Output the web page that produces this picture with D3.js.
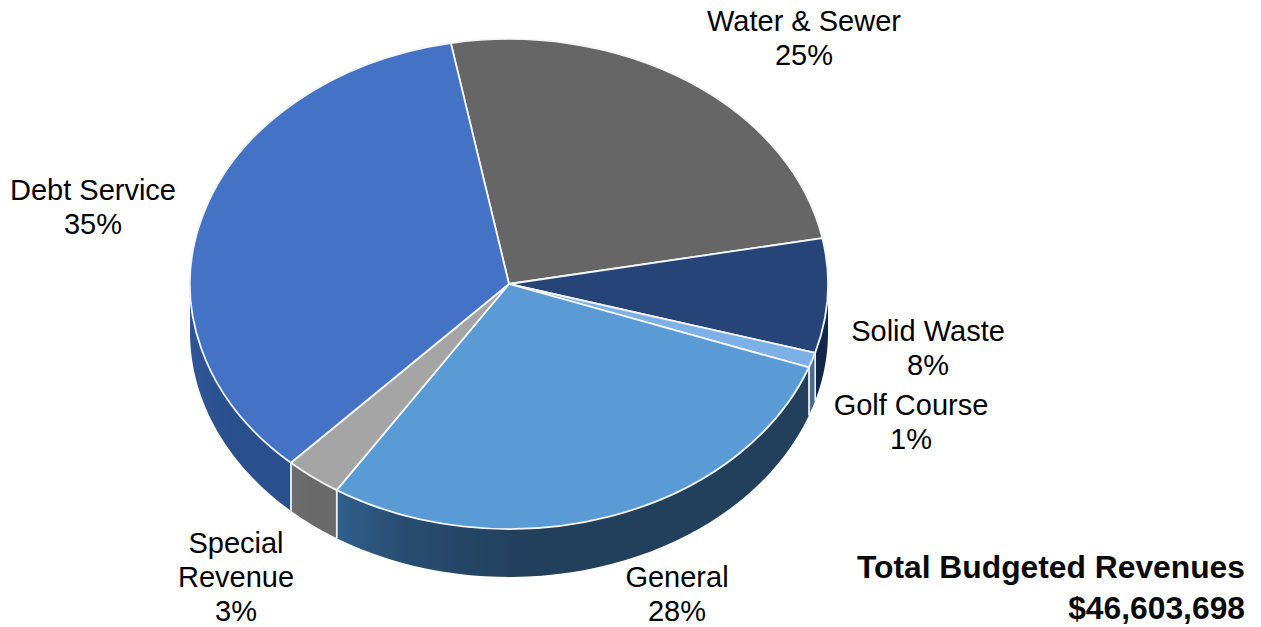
<!DOCTYPE html>
<html><head><meta charset="utf-8">
<script src="https://cdn.jsdelivr.net/npm/d3@7/dist/d3.min.js"></script>
<style>html,body{margin:0;padding:0;background:#fff}svg{display:block}</style>
</head><body><svg id="c" width="1261" height="627"></svg>
<script>
const categories = ["Water & Sewer","Solid Waste","Golf Course","General","Special Revenue","Debt Service"];
const shownPercents = ["25%","8%","1%","28%","3%","35%"];
const values = [24.92,7.53,1.0,28.55,2.9,35.1];
const topColors = ["#666666","#264478","#7cb0e6","#5b9bd5","#a5a5a5","#4472c4"];
const sideLeft  = ["#444444","#14294f","#5d7f9f","#2f5f8c","#6e6e6e","#2f5597"];
const sideMid   = ["#444444","#13274c","#54758f","#284c70","#6c6c6c","#2d5393"];
const sideRight = ["#444444","#12264a","#4b6c8c","#223f5c","#6a6a6a","#2a4f8d"];
const labelLines = [["Water & Sewer"],["Solid Waste"],["Golf Course"],["General"],["Special","Revenue"],["Debt Service"]];
const labelX = [804,928,911,677,236,93];
const labelY = [31,341,415,587,553,200];
const totalLines = ["Total Budgeted Revenues","$46,603,698"];

const cx=509, cy=284, rx=319, ry=245, depth=48, startDeg=-10.5;
const svg=d3.select("#c");
const defs=svg.append("defs");
const pie=d3.pie().sort(null).value(d=>d).startAngle(startDeg*Math.PI/180).endAngle((startDeg+360)*Math.PI/180);
const arcs=pie(values);
const px=t=>cx+rx*Math.sin(t), py=t=>cy-ry*Math.cos(t);

// side walls (front half only)
const frontA=Math.PI/2, frontB=3*Math.PI/2;
const line=d3.line();
arcs.forEach((a,i)=>{
  const s=Math.max(a.startAngle,frontA), e=Math.min(a.endAngle,frontB);
  if(e<=s) return;
  const ts=d3.range(0,41).map(k=>s+(e-s)*k/40);
  const pts=ts.map(t=>[px(t),py(t)]).concat(ts.slice().reverse().map(t=>[px(t),py(t)+depth]));
  const id="side"+i;
  const g=defs.append("linearGradient").attr("id",id).attr("gradientUnits","userSpaceOnUse")
    .attr("x1",px(e)).attr("y1",0).attr("x2",px(s)).attr("y2",0);
  g.append("stop").attr("offset",0).attr("stop-color",sideLeft[i]);
  g.append("stop").attr("offset",0.15).attr("stop-color",sideMid[i]);
  g.append("stop").attr("offset",0.4).attr("stop-color",sideRight[i]);
  g.append("stop").attr("offset",1).attr("stop-color",sideRight[i]);
  svg.append("path").attr("d",line(pts)+"Z").attr("fill",`url(#${id})`);
  // seams
  [s,e].forEach(t=>{
    if(t===frontA||t===frontB) return;
    svg.append("line").attr("x1",px(t)).attr("x2",px(t)).attr("y1",py(t)).attr("y2",py(t)+depth)
      .attr("stroke","#f4f6f8").attr("stroke-width",1.5);
  });
});

// top face
const arc=d3.arc().innerRadius(0).outerRadius(100);
const topG=svg.append("g").attr("transform",`translate(${cx},${cy}) scale(${rx/100},${ry/100})`);
topG.selectAll("path").data(arcs).join("path")
  .attr("d",arc).attr("fill",(d,i)=>topColors[i])
  .attr("stroke","#f2f4f6").attr("stroke-width",1.8).attr("vector-effect","non-scaling-stroke").attr("stroke-linejoin","round");

// labels
const font="'Liberation Sans',Arial,sans-serif";
categories.forEach((c,i)=>{
  const lines=labelLines[i].concat([shownPercents[i]]);
  const t=svg.append("text").attr("text-anchor","middle").attr("font-family",font).attr("font-size",29).attr("fill","#000");
  lines.forEach((l,k)=>t.append("tspan").attr("x",labelX[i]).attr("y",labelY[i]+k*34).text(l));
});
const tt=svg.append("text").attr("text-anchor","end").attr("font-family",font).attr("font-size",31.8).attr("font-weight","bold").attr("fill","#0a0a0a");
totalLines.forEach((l,k)=>tt.append("tspan").attr("x",1245).attr("y",578+k*41).text(l));
</script></body></html>
